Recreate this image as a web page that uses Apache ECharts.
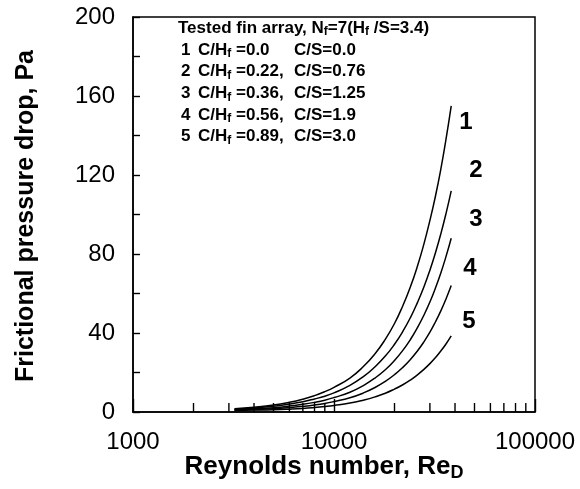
<!DOCTYPE html>
<html>
<head>
<meta charset="utf-8">
<script src="https://cdn.jsdelivr.net/npm/echarts@6/dist/echarts.min.js"></script>
<style>
  html, body { margin: 0; padding: 0; background: #fff; }
  #chart { width: 580px; height: 489px; }
</style>
</head>
<body>
<div id="chart"></div>
<script>
// Reynolds numbers at which the pressure-drop curves are sampled
const reynolds = [3200, 4000, 5000, 6000, 7000, 8000, 9000, 10000, 12000, 14000, 16000,
                  18000, 20000, 22000, 24000, 26000, 28000, 30000, 32000, 34000, 36000, 38300];

// Frictional pressure drop (Pa) for each clearance configuration
const dp1 = [1.6, 2.4, 3.5, 4.9, 6.5, 8.3, 10.3, 12.5, 17.2, 23.0, 29.5,
             36.8, 44.8, 53.8, 63.4, 73.8, 85.0, 97.0, 109.5, 123.0, 137.5, 155.0];
const dp2 = [1.4, 2.0, 2.9, 4.0, 5.2, 6.6, 8.0, 9.7, 13.5, 17.9, 22.9,
             28.3, 34.3, 40.8, 47.8, 55.4, 63.3, 71.8, 80.8, 90.2, 100.1, 112.0];
const dp3 = [1.2, 1.6, 2.2, 3.0, 3.9, 4.9, 6.0, 7.3, 10.0, 13.4, 17.2,
             21.4, 26.1, 31.2, 36.7, 42.7, 49.0, 55.7, 62.9, 70.4, 78.4, 88.0];
const dp4 = [1.0, 1.25, 1.65, 2.2, 2.85, 3.55, 4.35, 5.3, 7.2, 9.65, 12.4,
             15.5, 18.9, 22.6, 26.6, 30.9, 35.5, 40.4, 45.7, 51.2, 57.0, 64.0];
const dp5 = [0.8, 0.95, 1.15, 1.45, 1.8, 2.25, 2.75, 3.3, 4.5, 6.0, 7.65,
             9.5, 11.6, 13.8, 16.2, 18.8, 21.6, 24.5, 27.6, 30.9, 34.3, 38.5];

const curveNames = ['1', '2', '3', '4', '5'];
const curveValues = [dp1, dp2, dp3, dp4, dp5];

// Legend rows: index, C/Hf and C/S
const rowIndex = ['1', '2', '3', '4', '5'];
const rowCH = ['0.0', '0.22,', '0.36,', '0.56,', '0.89,'];
const rowCS = ['0.0', '0.76', '1.25', '1.9', '3.0'];

// Tick labels
const yTicks = [0, 40, 80, 120, 160, 200];
const xMajor = [1000, 10000, 100000];
const xMinor = [2000, 3000, 4000, 5000, 6000, 7000, 8000, 9000,
                20000, 30000, 40000, 50000, 60000, 70000, 80000, 90000];

const FONT = "'Liberation Sans', Arial, Helvetica, sans-serif";

const chart = echarts.init(document.getElementById('chart'), null, { renderer: 'canvas' });

const lineSeries = curveNames.map((name, i) => ({
  name: name,
  type: 'line',
  smooth: true,
  showSymbol: false,
  silent: true,
  data: reynolds.map((re, k) => [re, curveValues[i][k]]),
  lineStyle: { color: '#000', width: 1.5 },
  z: 3
}));

// short inward ticks at the intermediate decades of the log axis
const minorTickSeries = {
  type: 'custom',
  silent: true,
  data: xMinor.map(v => [v, 0]),
  renderItem: function (params, api) {
    const p = api.coord([api.value(0), 0]);
    return {
      type: 'line',
      shape: { x1: p[0], y1: p[1], x2: p[0], y2: p[1] - 9 },
      style: { stroke: '#000', lineWidth: 1.4 }
    };
  },
  z: 4
};

const rich = {
  n: { fontSize: 17, fontWeight: 'bold', fontFamily: FONT, lineHeight: 20, color: '#000' },
  s: { fontSize: 12, fontWeight: 'bold', fontFamily: FONT, lineHeight: 12, verticalAlign: 'bottom', color: '#000' }
};

const legendRowsY0 = 50, legendRowStep = 21.7;
const graphics = [
  {
    type: 'text', x: 178, y: 28,
    style: {
      text: '{n|Tested fin array, N}{s|f}{n|=7(H}{s|f}{n| /S=3.4)}',
      rich: rich, verticalAlign: 'middle', align: 'left'
    }
  }
];
rowIndex.forEach((d, i) => {
  const y = legendRowsY0 + i * legendRowStep;
  graphics.push({
    type: 'text', x: 181, y: y,
    style: { text: '{n|' + d + '}', rich: rich, verticalAlign: 'middle', align: 'left' }
  });
  graphics.push({
    type: 'text', x: 198, y: y,
    style: { text: '{n|C/H}{s|f}{n| =' + rowCH[i] + '}', rich: rich, verticalAlign: 'middle', align: 'left' }
  });
  graphics.push({
    type: 'text', x: 294, y: y,
    style: { text: '{n|C/S=' + rowCS[i] + '}', rich: rich, verticalAlign: 'middle', align: 'left' }
  });
});

// curve numbers beside the curve ends
const curveLabelPos = [[466, 122], [476, 170], [476, 219], [470, 268], [469, 321]];
curveNames.forEach((name, i) => {
  graphics.push({
    type: 'text', x: curveLabelPos[i][0], y: curveLabelPos[i][1],
    style: {
      text: name, fill: '#000', font: 'bold 24px ' + FONT,
      align: 'center', verticalAlign: 'middle'
    }
  });
});

// axis titles
graphics.push({
  type: 'text', x: 26, y: 216, rotation: Math.PI / 2,
  style: {
    text: 'Frictional pressure drop, Pa', fill: '#000', font: 'bold 25px ' + FONT,
    align: 'center', verticalAlign: 'middle'
  }
});
graphics.push({
  type: 'text', x: 324, y: 467,
  style: {
    text: '{t|Reynolds number, Re}{d|D}',
    rich: {
      t: { fontSize: 26, fontWeight: 'bold', fontFamily: FONT, lineHeight: 30, color: '#000' },
      d: { fontSize: 18, fontWeight: 'bold', fontFamily: FONT, lineHeight: 17, verticalAlign: 'bottom', color: '#000' }
    },
    align: 'center', verticalAlign: 'middle'
  }
});

chart.setOption({
  animation: false,
  backgroundColor: '#fff',
  grid: {
    left: 133, right: 45, top: 17, bottom: 77,
    show: true, borderColor: '#000', borderWidth: 1.5, backgroundColor: 'transparent'
  },
  xAxis: {
    type: 'log',
    logBase: 10,
    min: xMajor[0],
    max: xMajor[xMajor.length - 1],
    splitNumber: 2,
    axisLine: { lineStyle: { color: '#000', width: 1.5 } },
    axisTick: { inside: true, length: 13, lineStyle: { color: '#000', width: 1.4 } },
    splitLine: { show: false },
    axisLabel: {
      color: '#000', fontSize: 24, fontFamily: FONT, margin: 18,
      formatter: v => String(Math.round(v))
    }
  },
  yAxis: {
    type: 'value',
    min: yTicks[0],
    max: yTicks[yTicks.length - 1],
    interval: yTicks[1] - yTicks[0],
    axisLine: { show: true, lineStyle: { color: '#000', width: 1.5 } },
    axisTick: { show: true, inside: true, length: 7, lineStyle: { color: '#000', width: 1.4 } },
    minorTick: { show: true, splitNumber: 2, length: 7, lineStyle: { color: '#000', width: 1.4 } },
    splitLine: { show: false },
    axisLabel: { color: '#000', fontSize: 24, fontFamily: FONT, margin: 18 }
  },
  graphic: graphics,
  series: lineSeries.concat([minorTickSeries])
});
</script>
</body>
</html>
